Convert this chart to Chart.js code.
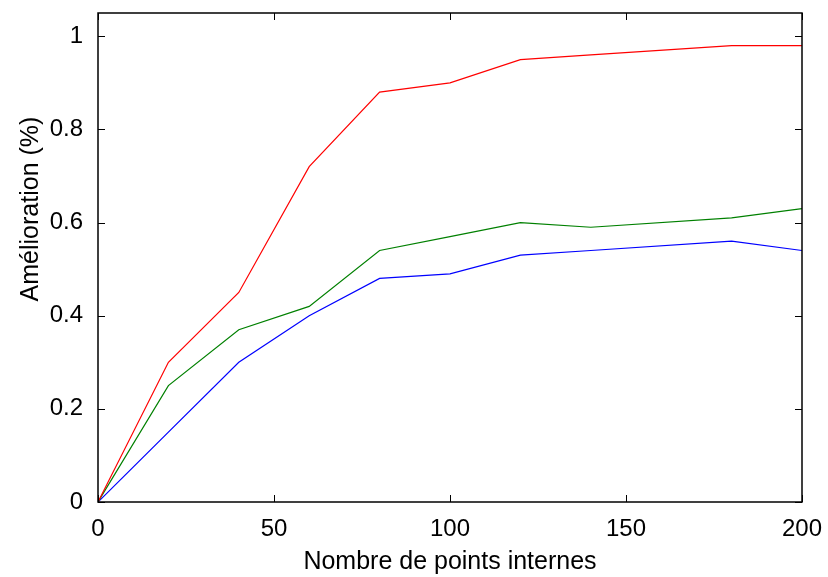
<!DOCTYPE html>
<html lang="fr">
<head>
<meta charset="UTF-8">
<title>Amélioration vs nombre de points internes</title>
<script src="https://cdn.jsdelivr.net/npm/chart.js@4.4.0/dist/chart.umd.min.js"></script>
<style>
  html, body { margin: 0; padding: 0; background: #fff; }
  #wrap { width: 828px; height: 577px; }
</style>
</head>
<body>
<div id="wrap"><canvas id="c"></canvas></div>
<script>
// donnees
const points = [0, 20, 40, 60, 80, 100, 120, 140, 180, 200];
const rouge = [0, 0.30, 0.45, 0.72, 0.88, 0.90, 0.95, 0.96, 0.98, 0.98];
const vert  = [0, 0.25, 0.37, 0.42, 0.54, 0.57, 0.60, 0.59, 0.61, 0.63];
const bleu  = [0, 0.15, 0.30, 0.40, 0.48, 0.49, 0.53, 0.54, 0.56, 0.54];
const xTicks = [0, 50, 100, 150, 200];
const yTicks = [0, 0.2, 0.4, 0.6, 0.8, 1];

const FONT = "'Liberation Sans', Arial, sans-serif";

function serie(vals, col) {
  return {
    data: points.map((x, i) => ({ x: x, y: vals[i] })),
    borderColor: col,
    borderWidth: 1.2,
    pointRadius: 0,
    tension: 0,
    fill: false
  };
}

// cadre + graduations vers l'interieur, titre de l'axe y
const cadre = {
  id: 'cadre',
  afterDraw(chart) {
    const ctx = chart.ctx, a = chart.chartArea;
    const sx = chart.scales.x, sy = chart.scales.y;
    ctx.save();
    ctx.strokeStyle = '#000';
    ctx.lineWidth = 1.5;
    ctx.strokeRect(a.left, a.top, a.right - a.left, a.bottom - a.top);
    ctx.lineWidth = 1;
    ctx.beginPath();
    xTicks.forEach(v => {
      const px = Math.round(sx.getPixelForValue(v)) + 0.5;
      ctx.moveTo(px, a.bottom); ctx.lineTo(px, a.bottom - 7);
      ctx.moveTo(px, a.top); ctx.lineTo(px, a.top + 7);
    });
    yTicks.forEach(v => {
      const py = Math.round(sy.getPixelForValue(v)) + 0.5;
      ctx.moveTo(a.left, py); ctx.lineTo(a.left + 7, py);
      ctx.moveTo(a.right, py); ctx.lineTo(a.right - 7, py);
    });
    ctx.stroke();

    ctx.fillStyle = '#000';
    ctx.font = '25px ' + FONT;
    ctx.textAlign = 'center';
    ctx.textBaseline = 'middle';
    ctx.translate(31, 209);
    ctx.rotate(-Math.PI / 2);
    ctx.fillText('Amélioration (%)', 0, 0);
    ctx.restore();
  }
};

new Chart(document.getElementById('c'), {
  type: 'line',
  data: {
    datasets: [serie(rouge, '#ff0000'), serie(vert, '#008000'), serie(bleu, '#0000ff')]
  },
  options: {
    responsive: true,
    maintainAspectRatio: false,
    animation: false,
    events: [],
    layout: { padding: { top: 9, right: 26, left: 0, bottom: 0 } },
    plugins: { legend: { display: false }, tooltip: { enabled: false } },
    scales: {
      x: {
        type: 'linear',
        min: 0, max: 200,
        afterBuildTicks: s => { s.ticks = xTicks.map(v => ({ value: v })); },
        afterFit: s => { s.height = 75; },
        grid: { display: false },
        border: { display: false },
        ticks: { color: '#000', font: { family: FONT, size: 24 }, padding: 5, maxRotation: 0,
                 callback: v => String(v) },
        title: { display: true, text: 'Nombre de points internes', color: '#000',
                 font: { family: FONT, size: 25 }, padding: { top: 0, bottom: 0 } }
      },
      y: {
        min: 0, max: 1.05,
        afterBuildTicks: s => { s.ticks = yTicks.map(v => ({ value: v })); },
        afterFit: s => { s.width = 98; },
        grid: { display: false },
        border: { display: false },
        ticks: { color: '#000', font: { family: FONT, size: 24, lineHeight: 0.5 }, padding: 7,
                 callback: v => String(v) }
      }
    }
  },
  plugins: [cadre]
});
</script>
</body>
</html>
